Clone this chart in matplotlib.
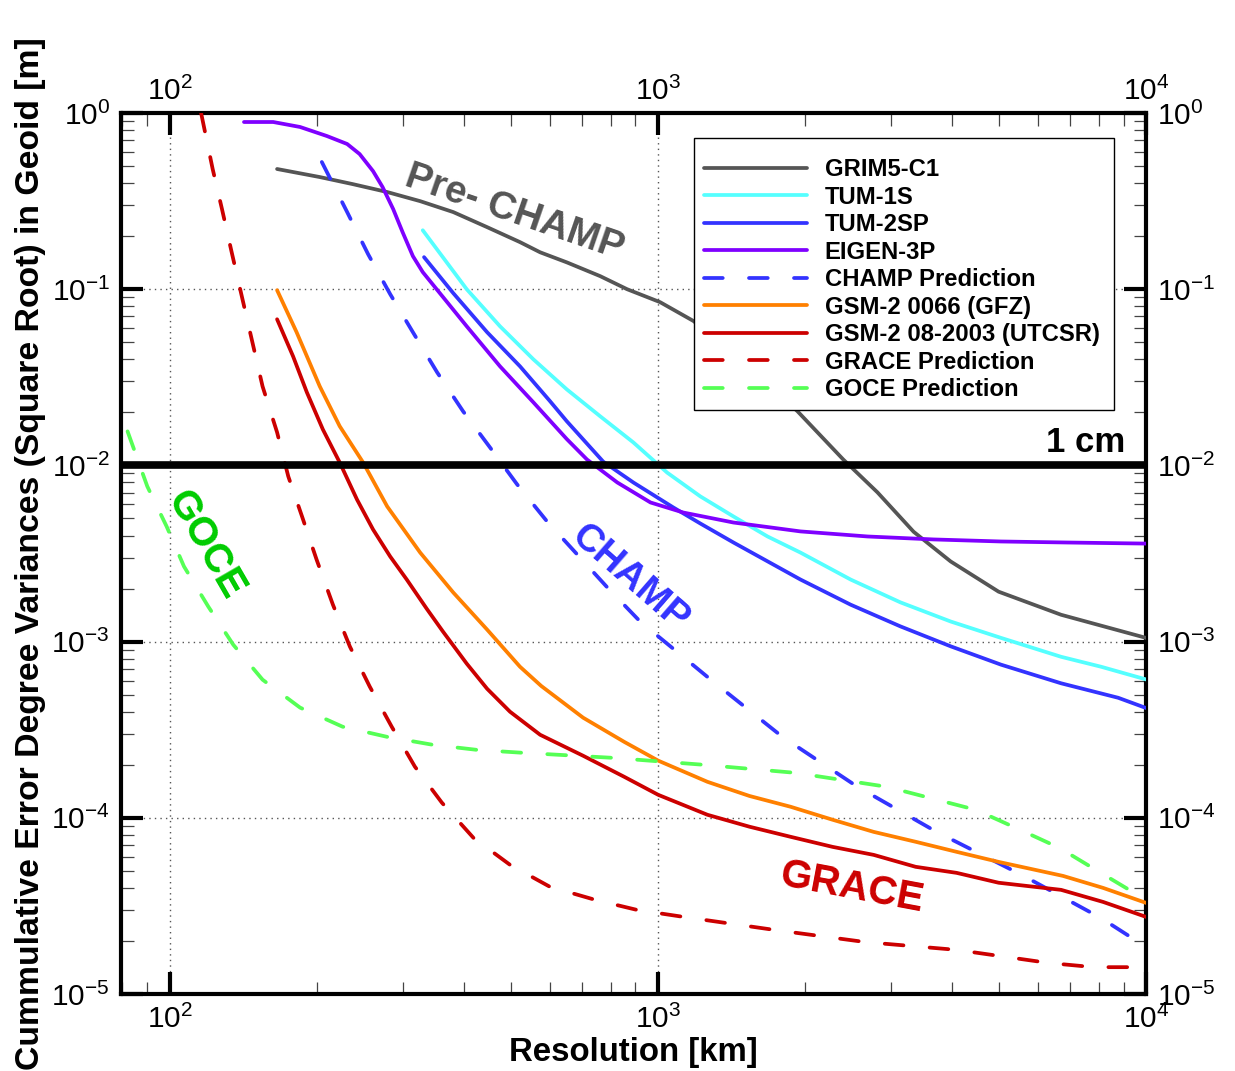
import matplotlib
matplotlib.use("Agg")
import matplotlib.pyplot as plt
from matplotlib.ticker import LogLocator, NullFormatter, FixedLocator, NullLocator
from matplotlib.patches import Rectangle

plt.rcParams['font.family'] = ['Liberation Sans', 'DejaVu Sans']
plt.rcParams['mathtext.fontset'] = 'custom'
plt.rcParams['mathtext.rm'] = 'Liberation Sans'
plt.rcParams['mathtext.it'] = 'Liberation Sans:italic'
plt.rcParams['mathtext.bf'] = 'Liberation Sans:bold'

# ---------------- data (resolution km, cumulative geoid error m) ----------------
grim5_x = [166, 203, 237, 279, 326, 381, 447, 522, 574, 651, 762, 865, 1011, 1183, 1500, 1932, 2398, 2818,
           3342, 3980, 4990, 6700, 10000]
grim5_y = [0.481, 0.433, 0.395, 0.356, 0.316, 0.274, 0.225, 0.185, 0.162, 0.142, 0.1186, 0.100, 0.0844, 0.066,
           0.0385, 0.0203, 0.0108, 0.00703, 0.0042, 0.00285, 0.00192, 0.00142, 0.00105]

tum1s_x = [330, 406, 475, 556, 651, 762, 891, 1045, 1222, 1429, 1678, 1960, 2483, 3140, 3981, 5045,
           6699, 8090, 10000]
tum1s_y = [0.216, 0.100, 0.0616, 0.040, 0.027, 0.019, 0.0135, 0.0091, 0.00667, 0.00513, 0.00395,
           0.00320, 0.00225, 0.00167, 0.0013, 0.00105, 0.00082, 0.00072, 0.00061]

tum2sp_x = [332, 381, 447, 522, 601, 651, 773, 891, 1076, 1222, 1429, 1960, 2483, 3140, 3981, 5045, 6699,
            8770, 10000]
tum2sp_y = [0.152, 0.095, 0.057, 0.0365, 0.0232, 0.0178, 0.0105, 0.008, 0.00577, 0.00468, 0.00365, 0.00225,
            0.00162, 0.00122, 0.00094, 0.00074, 0.00058, 0.00048, 0.00042]

eigen3p_x = [142, 163, 185, 210, 231, 245, 261, 273, 287, 300, 315, 330, 406, 475, 556, 651, 716, 826, 966,
             1128, 1429, 1960, 2690, 3673, 5045, 6918, 10000]
eigen3p_y = [0.889, 0.889, 0.833, 0.74, 0.667, 0.585, 0.468, 0.380, 0.285, 0.211, 0.154, 0.125, 0.0616,
             0.0365, 0.0228, 0.0141, 0.0108, 0.008, 0.00616, 0.0054, 0.00474, 0.00422, 0.00395, 0.0038,
             0.0037, 0.00365, 0.0036]

champ_pred_x = [205, 231, 255, 283, 315, 353, 399, 453, 515, 593, 684, 788, 920, 1061, 1282, 1800, 2564,
                3724, 5566, 8084, 10000]
champ_pred_y = [0.527, 0.274, 0.158, 0.0937, 0.057, 0.0338, 0.0203, 0.01266, 0.0078, 0.00481, 0.00312,
                0.00203, 0.0013, 0.00094, 0.00061, 0.000288, 0.00015, 8.32e-5, 4.74e-5, 2.7e-5, 1.85e-5]

gfz_x = [166, 182, 203, 223, 249, 279, 326, 381, 447, 522, 577, 703, 853, 1002, 1264, 1541, 1871, 2280,
         2768, 3374, 4093, 4990, 6760, 8170, 10000]
gfz_y = [0.0987, 0.057, 0.0281, 0.0167, 0.0104, 0.00585, 0.0032, 0.0019, 0.00117, 0.00072, 0.00056,
         0.00037, 0.00027, 0.000211, 0.00016, 0.000133, 0.0001155, 9.75e-5, 8.32e-5, 7.31e-5, 6.41e-5,
         5.62e-5, 4.68e-5, 4.0e-5, 3.29e-5]

utcsr_x = [166, 179, 191, 206, 223, 242, 261, 283, 306, 336, 363, 406, 447, 498, 574, 703, 853, 1002, 1264,
           1541, 1871, 2280, 2768, 3374, 4093, 4990, 6700, 8170, 10000]
utcsr_y = [0.0675, 0.0416, 0.026, 0.016, 0.0104, 0.0064, 0.00433, 0.00304, 0.00225, 0.00154, 0.00114,
           0.00075, 0.00054, 0.0004, 0.000296, 0.000225, 0.000171, 0.000135, 0.000104, 8.9e-5, 7.8e-5,
           6.84e-5, 6.16e-5, 5.27e-5, 4.87e-5, 4.28e-5, 3.9e-5, 3.33e-5, 2.74e-5]

grace_pred_x = [116, 122.5, 128, 134, 141, 155, 166, 175, 187, 200, 216, 234, 257, 285, 318, 361, 419, 498,
                601, 745, 907, 1128, 1734, 2666, 4093, 6320, 7820, 10000]
grace_pred_y = [1.0, 0.481, 0.285, 0.162, 0.0877, 0.0281, 0.0154, 0.00866, 0.00507, 0.00292, 0.00162,
                0.000937, 0.000555, 0.000329, 0.000195, 0.000122, 7.7e-5, 5.41e-5, 4.06e-5, 3.42e-5, 3.0e-5,
                2.74e-5, 2.31e-5, 1.97e-5, 1.78e-5, 1.5e-5, 1.42e-5, 1.42e-5]

goce_pred_x = [82, 90, 98.6, 107, 120, 135, 155, 185, 226, 279, 345, 426, 527, 807, 1239, 1912, 2944, 4480,
               5520, 6640, 8020, 10000]
goce_pred_y = [0.0156, 0.0076, 0.0045, 0.00267, 0.00158, 0.00096, 0.000608, 0.000422, 0.000329, 0.000288,
               0.00026, 0.000243, 0.000234, 0.000219, 0.0002, 0.00018, 0.00015, 0.000111, 8.55e-5, 6.76e-5,
               4.93e-5, 3.42e-5]

one_cm = 0.01
x_decades = [100, 1000, 10000]

labels = ["GRIM5-C1", "TUM-1S", "TUM-2SP", "EIGEN-3P", "CHAMP Prediction",
          "GSM-2 0066 (GFZ)", "GSM-2 08-2003 (UTCSR)", "GRACE Prediction", "GOCE Prediction"]

# ---------------- figure ----------------
W, H = 1235, 1071
L, R, T, B = 121, 1146, 113, 994
fig = plt.figure(figsize=(W/100, H/100), dpi=100)
ax = fig.add_axes([L/W, 1-B/H, (R-L)/W, (B-T)/H])
ax.set_xscale('log')
ax.set_yscale('log')
ax.set_xlim(79.5, 10000)
ax.set_ylim(1e-5, 1)

lw = 2.7
dash = (0, (5, 7))
series = [
    (grim5_x, grim5_y, '#555555', '-'),
    (tum1s_x, tum1s_y, '#55FFFF', '-'),
    (tum2sp_x, tum2sp_y, '#3333FF', '-'),
    (eigen3p_x, eigen3p_y, '#7F00FF', '-'),
    (champ_pred_x, champ_pred_y, '#3333FF', dash),
    (gfz_x, gfz_y, '#FF8000', '-'),
    (utcsr_x, utcsr_y, '#CC0000', '-'),
    (grace_pred_x, grace_pred_y, '#CC0000', dash),
    (goce_pred_x, goce_pred_y, '#55FF55', dash),
]
handles = []
for (xs, ys, c, ls), lab in zip(series, labels):
    h, = ax.plot(xs, ys, color=c, linestyle=ls, lw=lw, label=lab,
                 solid_capstyle='round', solid_joinstyle='round',
                 dash_capstyle='round', dash_joinstyle='round', zorder=3)
    handles.append(h)

ax.axhline(one_cm, color='black', lw=5.5, zorder=4)

# grid
ax.grid(True, which='major', linestyle=(0, (1, 3)), color='#555555', lw=1.0, zorder=1)

# ticks
for axis in (ax.xaxis, ax.yaxis):
    axis.set_major_locator(LogLocator(base=10, numticks=10))
    axis.set_minor_locator(LogLocator(base=10, subs=range(2, 10), numticks=20))
    axis.set_minor_formatter(NullFormatter())
ax.tick_params(which='major', direction='in', length=16, width=3, color='black',
               top=True, right=True, labeltop=False, labelright=True, labelsize=21.5, pad=8)
ax.tick_params(which='minor', direction='in', length=9, width=0.9, color='#444444',
               top=True, right=True)
for s in ax.spines.values():
    s.set_linewidth(3)

# top tick labels via secondary axis (own padding)
sec = ax.secondary_xaxis('top')
sec.xaxis.set_major_locator(FixedLocator(x_decades))
sec.xaxis.set_minor_locator(NullLocator())
sec.tick_params(which='both', length=0, labelsize=21.5, pad=5)
sec.spines['top'].set_visible(False)

ax.set_xlabel("Resolution [km]", fontsize=23.8, fontweight='bold', labelpad=2)
ax.set_ylabel("Cummulative Error Degree Variances (Square Root) in Geoid [m]",
              fontsize=24.3, fontweight='bold', labelpad=4)

# annotations
def atext(px, py, s, color, rot, size, ha='center', va='center'):
    ax.text((px-L)/(R-L), (B-py)/(B-T), s, transform=ax.transAxes, color=color,
            fontsize=size, fontweight='bold', rotation=rot, rotation_mode='anchor',
            ha=ha, va=va, zorder=5)

atext(514, 213, "Pre- CHAMP", '#555555', -19, 28)
atext(206, 545, "GOCE", '#00CC00', -60, 29)
atext(630, 578, "CHAMP", '#3333FF', -41, 28)
atext(852, 888, "GRACE", '#CC0000', -10.6, 29)
atext(1125, 452, "1 cm", 'black', 0, 25, ha='right', va='baseline')

# legend frame drawn at the reference position, entries placed inside
ax.add_patch(Rectangle(((694-L)/(R-L), (B-410)/(B-T)), 420/(R-L), 272/(B-T),
                       transform=ax.transAxes, facecolor='white', edgecolor='black',
                       lw=1.0, zorder=6))
leg = ax.legend(handles=handles, loc='upper left',
                bbox_to_anchor=((704-L)/(R-L), (B-158)/(B-T)),
                borderaxespad=0, frameon=False, prop={'weight': 'bold', 'size': 17.2},
                handlelength=4.3, handletextpad=0.75, labelspacing=0.19, borderpad=0)
leg.set_zorder(7)

fig.savefig("out.png", dpi=100)
